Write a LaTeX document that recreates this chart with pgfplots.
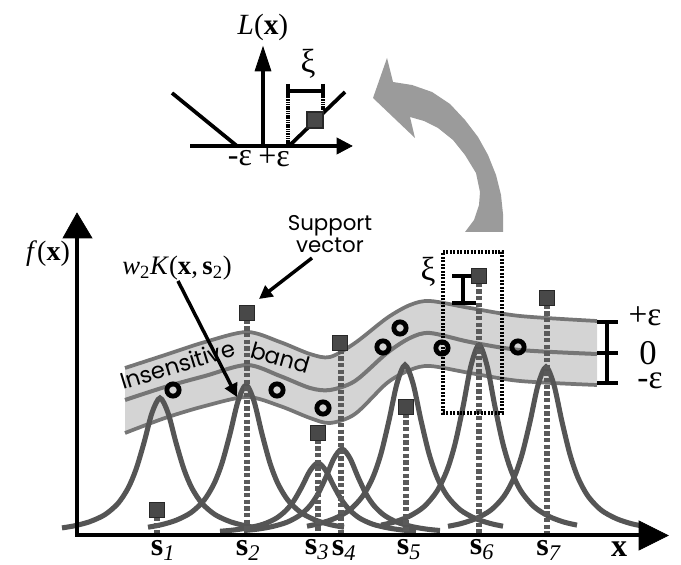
\documentclass[border=0pt]{standalone}
\usepackage{pgfplots}
\pgfplotsset{compat=1.18}
\usepgfplotslibrary{fillbetween}
\usetikzlibrary{arrows.meta}
\usepackage{fontspec}
\setmainfont{Liberation Serif}
\newfontfamily\pop{Poppins}
\definecolor{kern}{RGB}{85,85,85}
\definecolor{bandfill}{RGB}{212,212,212}
\definecolor{bandedge}{RGB}{118,118,118}
\definecolor{stemgray}{RGB}{90,90,90}
\definecolor{sqfill}{RGB}{72,72,72}
\definecolor{sqdraw}{RGB}{40,40,40}
\definecolor{bigarrow}{RGB}{155,155,155}
\begin{document}
\begin{tikzpicture}
\begin{axis}[width=510.75pt,height=422.25pt,scale only axis,
  xmin=0,xmax=681,ymin=0,ymax=563,y dir=reverse,hide axis,clip=false]
\addplot[draw=none] coordinates {(0,0) (681,563)};
% ---------- insensitive band ----------
\addplot[name path=up, draw=none, smooth] coordinates {(125,368) (165,355) (205,342) (247,332) (280,342) (310,354) (330,357) (355,343) (387,318) (410,305) (430,301) (470,308) (520,316) (597,321)};
\addplot[name path=lo, draw=none, smooth] coordinates {(125,433) (165,418) (205,406) (247,397) (280,406) (310,418) (330,423) (355,414) (387,383) (410,370) (430,366) (470,373) (520,381) (597,385)};
\addplot[bandfill] fill between[of=up and lo];
\addplot[bandedge, line width=2.8pt, smooth] coordinates {(125,368) (165,355) (205,342) (247,332) (280,342) (310,354) (330,357) (355,343) (387,318) (410,305) (430,301) (470,308) (520,316) (597,321)};
\addplot[bandedge, line width=2.8pt, smooth] coordinates {(125,433) (165,418) (205,406) (247,397) (280,406) (310,418) (330,423) (355,414) (387,383) (410,370) (430,366) (470,373) (520,381) (597,385)};
\addplot[bandedge, line width=3pt, smooth] coordinates {(125,400) (165,387) (205,376) (247,365) (280,376) (310,388) (330,390) (355,381) (387,353) (410,338) (430,333) (470,342) (520,350) (597,354)};
\node[font=\pop\fontsize{17}{20}\selectfont, rotate=17, anchor=base west, inner sep=0pt] at (axis cs:123,390) {Insensitive};
\node[font=\pop\fontsize{17}{20}\selectfont, rotate=-16, anchor=base west, inner sep=0pt] at (axis cs:249,357) {band};
% ---------- kernels ----------
\pgfplotsset{kernstyle/.style={kern, line width=3.8pt, smooth}}
\addplot[kernstyle] coordinates {(62,527.9) (75,525.7) (90,521.6) (105,514.6) (118,503.4) (128,488.3) (136,469.4) (144,442.7) (152,412.8) (160,398) (168,412.8) (176,442.7) (184,469.4) (192,488.3) (202,503.4) (215,514.6) (230,521.6) (245,525.7) (258,527.9)};
\addplot[kernstyle] coordinates {(148,527.2) (161,524.8) (176,520.3) (191,512.6) (204,500.3) (214,483.8) (222,463.1) (230,433.9) (238,401.2) (246,385) (254,401.2) (262,433.9) (270,463.1) (278,483.8) (288,500.3) (301,512.6) (316,520.3) (331,524.8) (344,527.2)};
\addplot[kernstyle] coordinates {(220,531.3) (233,530.1) (248,527.9) (263,524.3) (276,518.4) (286,510.4) (294,500.5) (302,486.5) (310,470.8) (318,463) (326,470.8) (334,486.5) (342,500.5) (350,510.4) (360,518.4) (373,524.3) (388,527.9) (403,530.1) (416,531.3)};
\addplot[kernstyle] coordinates {(244,530.5) (257,529.2) (272,526.6) (287,522.2) (300,515.1) (310,505.7) (318,493.8) (326,477.0) (334,458.3) (342,449) (350,458.3) (358,477.0) (366,493.8) (374,505.7) (384,515.1) (397,522.2) (412,526.6) (427,529.2) (440,530.5)};
\addplot[kernstyle] coordinates {(307,526.2) (320,523.4) (335,518.3) (350,509.7) (363,495.7) (373,477.0) (381,453.6) (389,420.4) (397,383.4) (405,365) (413,383.4) (421,420.4) (429,453.6) (437,477.0) (447,495.7) (460,509.7) (475,518.3) (490,523.4) (503,526.2)};
\addplot[kernstyle] coordinates {(381,525.1) (394,522.1) (409,516.4) (424,506.7) (437,491.1) (447,470.2) (455,444.0) (463,406.9) (471,365.5) (479,345) (487,365.5) (495,406.9) (503,444.0) (511,470.2) (521,491.1) (534,506.7) (549,516.4) (564,522.1) (577,525.1)};
\addplot[kernstyle] coordinates {(448,526.3) (461,523.6) (476,518.5) (491,510.0) (504,496.2) (514,477.7) (522,454.5) (530,421.8) (538,385.1) (546,367) (554,385.1) (562,421.8) (570,454.5) (578,477.7) (588,496.2) (601,510.0) (616,518.5) (631,523.6) (644,526.3)};
% ---------- stems ----------
\pgfplotsset{stemstyle/.style={draw=stemgray, line width=4.4pt, dash pattern=on 3.2pt off 1.8pt}}
\addplot[stemstyle] coordinates {(157,510) (157,535)};
\addplot[stemstyle] coordinates {(247,313) (247,535)};
\addplot[stemstyle] coordinates {(318,433) (318,535)};
\addplot[stemstyle] coordinates {(341,343) (341,535)};
\addplot[stemstyle] coordinates {(406,407) (406,535)};
\addplot[stemstyle] coordinates {(479,276) (479,535)};
\addplot[stemstyle] coordinates {(547,298) (547,535)};
% ---------- support vectors (squares) ----------
\addplot[only marks, mark=square*, mark size=5.6pt, mark options={fill=sqfill, draw=sqdraw, line width=0.8pt}] coordinates {(157,510) (247,313) (318,433) (340,343) (406,407) (479,276) (547,298)};
% ---------- data points (rings) ----------
\addplot[only marks, mark=o, mark size=4.6pt, mark options={black, line width=3.6pt}] coordinates {(173,390) (277,390) (323,408) (383,347) (400,328) (442,348) (518,347)};
% ---------- main axes ----------
\addplot[black, line width=3.4pt] coordinates {(77,537) (77,236)};
\addplot[black, line width=3.4pt] coordinates {(75,535) (642,535)};
\addplot[black, fill=black, line width=0.5pt] coordinates {(63,238) (92,238) (77,213)} -- cycle;
\addplot[black, fill=black, line width=0.5pt] coordinates {(639,521) (639,550) (668,535.5)} -- cycle;
\node[font=\fontsize{21}{24}\selectfont] at (axis cs:48,254) {\textit{f}(\textbf{x})};
\node[font=\fontsize{24}{24}\selectfont\bfseries] at (axis cs:619,549) {x};
\node[font=\fontsize{24}{24}\selectfont] at (axis cs:163,550) {\textbf{s}\textsubscript{\textit{1}}};
\node[font=\fontsize{24}{24}\selectfont] at (axis cs:248,550) {\textbf{s}\textsubscript{\textit{2}}};
\node[font=\fontsize{24}{24}\selectfont] at (axis cs:317,550) {\textbf{s}\textsubscript{\textit{3}}};
\node[font=\fontsize{24}{24}\selectfont] at (axis cs:344,550) {\textbf{s}\textsubscript{\textit{4}}};
\node[font=\fontsize{24}{24}\selectfont] at (axis cs:409,550) {\textbf{s}\textsubscript{\textit{5}}};
\node[font=\fontsize{24}{24}\selectfont] at (axis cs:482,550) {\textbf{s}\textsubscript{\textit{6}}};
\node[font=\fontsize{24}{24}\selectfont] at (axis cs:549,550) {\textbf{s}\textsubscript{\textit{7}}};
% ---------- annotations ----------
\node[font=\pop\fontsize{16}{19}\selectfont, align=center, inner sep=0pt] at (axis cs:330,234) {Support\\[-2pt]vector};
\addplot[black, line width=2.6pt, -{Triangle[length=10pt,width=10pt]}] coordinates {(312,258) (259,299)};
\node[font=\fontsize{20}{22}\selectfont] at (axis cs:177,268) {\textit{w}\textsubscript{2}\textit{K}(\textbf{x},\,\textbf{s}\textsubscript{2})};
\addplot[black, line width=2.6pt, -{Triangle[length=10pt,width=10pt]}] coordinates {(178,281) (237,397)};
% xi bracket
\addplot[black, line width=2.8pt] coordinates {(463,276) (463,303)};
\addplot[black, line width=2.8pt] coordinates {(452,276) (474,276)};
\addplot[black, line width=2.8pt] coordinates {(452,303) (476,303)};
\node[font=\fontsize{25}{26}\selectfont] at (axis cs:428,272) {ξ};
% dotted box
\addplot[black, line width=2.6pt, dash pattern=on 1.5pt off 1.1pt] coordinates {(443,252) (502,252) (502,413) (443,413)} -- cycle;
% epsilon bracket
\addplot[black, line width=2.8pt] coordinates {(607,322) (607,383)};
\addplot[black, line width=2.8pt] coordinates {(597,322) (618,322)};
\addplot[black, line width=2.8pt] coordinates {(597,353) (618,353)};
\addplot[black, line width=2.8pt] coordinates {(597,383) (618,383)};
\node[font=\fontsize{25}{26}\selectfont] at (axis cs:645,316) {+ε};
\node[font=\fontsize{26}{26}\selectfont] at (axis cs:648,353) {0};
\node[font=\fontsize{25}{26}\selectfont] at (axis cs:650,381) {-ε};
% ---------- big curved arrow ----------
\addplot[fill=bigarrow, draw=none] coordinates {(387,58) (393,82) (412,85) (432,92) (450,104) (465,120) (478,137) (488,155) (496,175) (501,195) (503,214) (503,232) (465,232) (474,220) (479,205) (480,192) (476,173) (465,155) (453,140) (438,128) (424,121) (410,117) (415,138) (373,98)} -- cycle;
% ---------- inset: loss function ----------
\addplot[black, line width=2.8pt] coordinates {(263,147) (263,68)};
\addplot[black, fill=black, line width=0.5pt] coordinates {(255,71) (271,71) (263,47)} -- cycle;
\addplot[black, line width=2.8pt] coordinates {(190,146) (339,146)};
\addplot[black, fill=black, line width=0.5pt] coordinates {(337,138) (337,154) (352,146)} -- cycle;
\addplot[black, line width=2.8pt] coordinates {(172,93) (237,146)};
\addplot[black, line width=2.8pt] coordinates {(289,146) (345,92)};
\addplot[black, line width=2.8pt, dash pattern=on 1.1pt off 0.6pt] coordinates {(288,97) (288,146)};
\addplot[black, line width=2.8pt, dash pattern=on 1.1pt off 0.6pt] coordinates {(323,97) (323,113)};
\addplot[black, line width=2.8pt] coordinates {(288,91) (323,91)};
\addplot[black, line width=2.8pt] coordinates {(288,84) (288,98)};
\addplot[black, line width=2.8pt] coordinates {(323,84) (323,98)};
\addplot[only marks, mark=square*, mark size=6pt, mark options={fill=sqfill, draw=sqdraw, line width=0.8pt}] coordinates {(315,120)};
\node[font=\fontsize{25}{26}\selectfont] at (axis cs:308,64) {ξ};
\node[font=\fontsize{22}{24}\selectfont] at (axis cs:263,27) {\textit{L}(\textbf{x})};
\node[font=\fontsize{24}{24}\selectfont] at (axis cs:240,158) {-ε};
\node[font=\fontsize{24}{24}\selectfont] at (axis cs:274,158) {+ε};
\end{axis}
\end{tikzpicture}
\end{document}
